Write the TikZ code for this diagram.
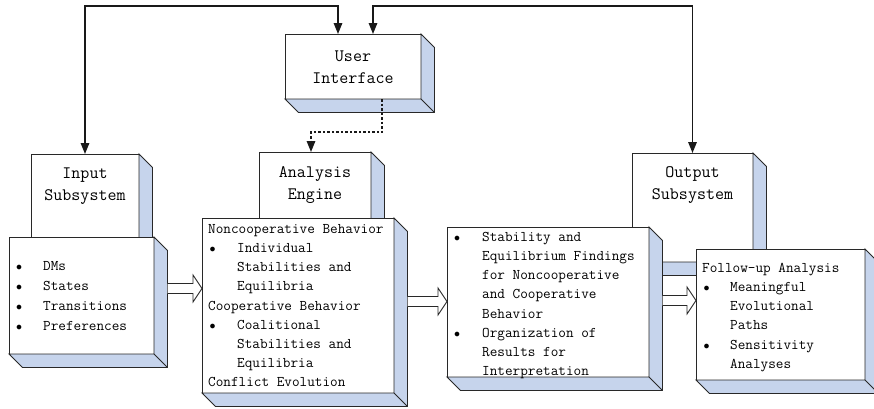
\documentclass[tikz,border=0pt]{standalone}
\usetikzlibrary{calc,arrows.meta}

\definecolor{depthblue}{RGB}{198,212,236}
\definecolor{edgegray}{RGB}{40,40,40}

\tikzset{
  x=1pt, y=-1pt,
  face/.style={rectangle, draw=edgegray, line width=0.9pt, fill=white,
               inner sep=0pt, outer sep=0pt, anchor=north west},
  depthside/.style={draw=edgegray, line width=0.9pt, fill=depthblue, line join=miter},
  txt/.style={inner sep=0pt, font=\ttfamily\fontsize{14.8}{19.2}\selectfont},
  hdr/.style={txt, align=center, anchor=north,
              font=\ttfamily\fontsize{17.5}{22}\selectfont},
  lst/.style={txt, align=left, anchor=north west},
  hd/.tip={Triangle[length=11pt,width=8.5pt]},
  conn/.style={line width=1.5pt, draw=black!90, {hd}-{hd}},
  dashconn/.style={line width=1.5pt, draw=black!90, dash pattern=on 2.5pt off 2pt, -{hd}},
  blockarrow/.style={draw=edgegray, line width=0.9pt, fill=white, line join=miter}
}

% side and bottom faces of a raised box
\newcommand\depthof[1]{%
  \filldraw[depthside] (#1.north east) -- ++(13.5pt,-13.5pt)
    -- ($(#1.south east)+(13.5pt,-13.5pt)$) -- ($(#1.south west)+(13.5pt,-13.5pt)$)
    -- (#1.south west) -- (#1.south east) -- cycle;
  \draw[depthside] (#1.south east) -- ++(13.5pt,-13.5pt);}

% hollow block arrow running right from #1 to the x of #2
\newcommand\hollowarrow[2]{%
  \draw[blockarrow] let \p1=(#1), \p2=(#2) in
    (\x1,\y1+5pt) -- (\x2-9pt,\y1+5pt) -- (\x2-9pt,\y1+13.5pt) -- (\x2,\y1)
    -- (\x2-9pt,\y1-13.5pt) -- (\x2-9pt,\y1-5pt) -- (\x1,\y1-5pt);}

\newcommand\bl[2]{\makebox[#2pt][l]{\hspace*{#1pt}{\fontsize{12}{12}\selectfont$\bullet$}}}
\newcommand\strt{\rule{0pt}{10pt}}
\newcommand\hstrt{\rule{0pt}{12pt}}

\begin{document}
\begin{tikzpicture}
\useasboundingbox (0,0) rectangle (874,408);

% upper boxes
\node[face, minimum width=136pt, minimum height=65pt] (ui) at (285,34) {};
\depthof{ui}
\node[hdr] (uitext) at ([yshift=-15pt]ui.north) {\hstrt User\\Interface};

\node[face, minimum width=108pt, minimum height=106pt] (input) at (31,154) {};
\depthof{input}
\node[hdr] (inputtext) at ([yshift=-12pt]input.north) {\hstrt Input\\Subsystem};

\node[face, minimum width=112pt, minimum height=108pt] (engine) at (259,152) {};
\depthof{engine}
\node[hdr] (enginetext) at ([yshift=-13pt]engine.north) {\hstrt Analysis\\Engine};

\node[face, minimum width=121pt, minimum height=109pt] (output) at (632,153) {};
\depthof{output}
\node[hdr] (outputtext) at ([yshift=-12pt]output.north) {\hstrt Output\\Subsystem};

% lower boxes
\node[face, minimum width=145pt, minimum height=117pt] (dms) at (9,237) {};
\depthof{dms}
\node[lst, font=\ttfamily\fontsize{14.8}{20}\selectfont] (dmstext)
  at ([shift={(7pt,-23pt)}]dms.north west)
  {\strt\bl{0}{27}DMs\\ \bl{0}{27}States\\ \bl{0}{27}Transitions\\ \bl{0}{27}Preferences};

\node[face, minimum width=192pt, minimum height=175pt] (core) at (202,218) {};
\depthof{core}
\node[lst] (coretext) at ([shift={(6pt,-5pt)}]core.north west)
  {\strt Noncooperative Behavior\\
   \bl{1.5}{29}Individual\\
   \hspace*{29pt}Stabilities and\\
   \hspace*{29pt}Equilibria\\
   Cooperative Behavior\\
   \bl{1.5}{29}Coalitional\\
   \hspace*{29pt}Stabilities and\\
   \hspace*{29pt}Equilibria\\
   Conflict Evolution};

\node[face, minimum width=202pt, minimum height=150pt] (results) at (447,227) {};
\depthof{results}
\node[lst] (resultstext) at ([shift={(7pt,-4pt)}]results.north west)
  {\strt\bl{0}{28}Stability and\\
   \hspace*{28pt}Equilibrium Findings\\
   \hspace*{28pt}for Noncooperative\\
   \hspace*{28pt}and Cooperative\\
   \hspace*{28pt}Behavior\\
   \bl{0}{28}Organization of\\
   \hspace*{28pt}Results for\\
   \hspace*{28pt}Interpretation};

\node[face, minimum width=169pt, minimum height=131pt] (followup) at (696,249) {};
\depthof{followup}
\node[lst] (followuptext) at ([shift={(6pt,-13pt)}]followup.north west)
  {\strt Follow-up Analysis\\
   \bl{1.5}{28}Meaningful\\
   \hspace*{28pt}Evolutional\\
   \hspace*{28pt}Paths\\
   \bl{1.5}{28}Sensitivity\\
   \hspace*{28pt}Analyses};

% links to and from the user interface
\draw[conn] (input.north) |- ([shift={(-15pt,28pt)}]ui.north) -- ([xshift=-15pt]ui.north);
\draw[conn] (output.north) |- ([shift={(20pt,28pt)}]ui.north) -- ([xshift=20pt]ui.north);
\draw[dashconn] ([xshift=29pt]ui.south) |- ([shift={(-4pt,20pt)}]engine.north)
  -- ([xshift=-4pt]engine.north);

% data flow between the lower boxes
\hollowarrow{[shift={(13.5pt,7pt)}]dms.east}{core.west}
\hollowarrow{[shift={(13.5pt,4pt)}]core.east}{results.west}
\hollowarrow{[shift={(13.5pt,1.5pt)}]results.east}{followup.west}
\end{tikzpicture}
\end{document}
